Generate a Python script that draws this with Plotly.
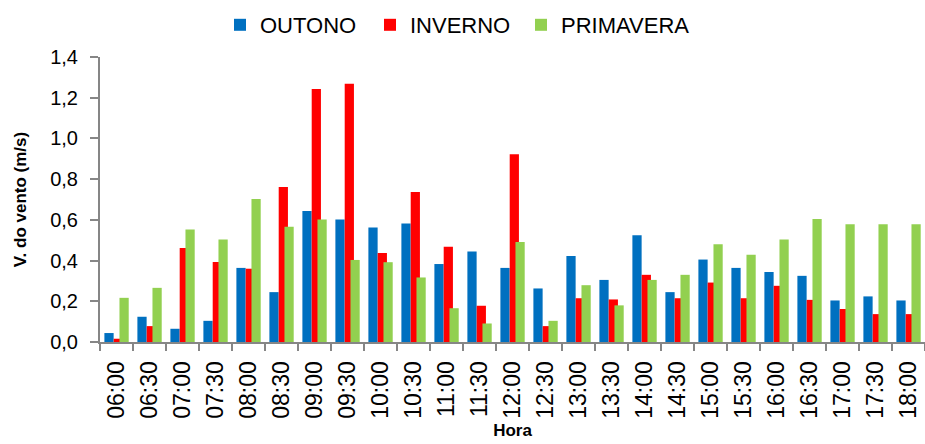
import plotly.graph_objects as go

horas = ["06:00", "06:30", "07:00", "07:30", "08:00", "08:30", "09:00", "09:30",
         "10:00", "10:30", "11:00", "11:30", "12:00", "12:30", "13:00", "13:30",
         "14:00", "14:30", "15:00", "15:30", "16:00", "16:30", "17:00", "17:30", "18:00"]

outono = [0.044, 0.124, 0.065, 0.104, 0.364, 0.245, 0.643, 0.602,
          0.563, 0.582, 0.383, 0.444, 0.364, 0.263, 0.423, 0.305,
          0.524, 0.245, 0.405, 0.364, 0.344, 0.325, 0.204, 0.224, 0.204]

inverno = [0.016, 0.078, 0.462, 0.393, 0.360, 0.762, 1.243, 1.268,
           0.437, 0.737, 0.468, 0.178, 0.922, 0.078, 0.215, 0.209,
           0.330, 0.215, 0.292, 0.215, 0.276, 0.207, 0.162, 0.137, 0.137]

primavera = [0.217, 0.266, 0.553, 0.503, 0.703, 0.566, 0.602, 0.403,
             0.392, 0.317, 0.166, 0.091, 0.491, 0.104, 0.279, 0.180,
             0.305, 0.330, 0.480, 0.429, 0.503, 0.604, 0.579, 0.579, 0.579]

# name, values, colour, bar offset within the category, legend id, legend left (px)
series = [
    ("OUTONO", outono, "#0070C0", -0.367, "legend", 220),
    ("INVERNO", inverno, "#FF0000", -0.085, "legend2", 370),
    ("PRIMAVERA", primavera, "#92D050", 0.09, "legend3", 521),
]

W, H = 925, 444
fig = go.Figure()
legend_layout = {}
for name, vals, color, off, leg, left in series:
    fig.add_trace(go.Bar(
        x=horas, y=vals, name=name,
        marker=dict(color=color, line=dict(width=0)),
        width=0.28, offset=off, legend=leg,
    ))
    legend_layout[leg] = dict(
        orientation="h", xref="container", yref="container",
        x=left / W, xanchor="left", y=1 - 4 / H, yanchor="top",
        font=dict(family="Liberation Sans, Arial", size=22, color="black"),
        bgcolor="rgba(0,0,0,0)",
    )

axis_gray = "#868686"
fig.update_layout(
    width=W, height=H,
    margin=dict(l=100, r=0, t=56, b=102),
    paper_bgcolor="white", plot_bgcolor="white",
    barmode="overlay",
    separators=", ",
    showlegend=True,
    font=dict(family="Liberation Sans, Arial", color="black"),
    **legend_layout,
)

fig.update_xaxes(
    type="category",
    tickangle=-90,
    tickfont=dict(size=23, family="Liberation Sans, Arial", color="black"),
    showline=True, linecolor=axis_gray, linewidth=2,
    ticks="outside", tickson="boundaries", ticklen=7, tickcolor=axis_gray, tickwidth=2,
    ticklabelstandoff=8,
    showgrid=False, zeroline=False,
    title=dict(text="<b>Hora</b>", font=dict(size=17, color="black"), standoff=6),
    range=[-0.5, 24.5],
)
fig.update_yaxes(
    range=[0, 1.4], dtick=0.2, tickformat=".1f",
    tickfont=dict(size=20, family="Liberation Sans, Arial", color="black"),
    showline=True, linecolor=axis_gray, linewidth=2,
    ticks="outside", ticklen=8, tickcolor=axis_gray, tickwidth=2,
    ticklabelstandoff=8,
    showgrid=False, zeroline=False,
    title=dict(text="<b>V. do vento (m/s)</b>", font=dict(size=17, color="black"), standoff=19),
)

fig.write_html("out.html")
